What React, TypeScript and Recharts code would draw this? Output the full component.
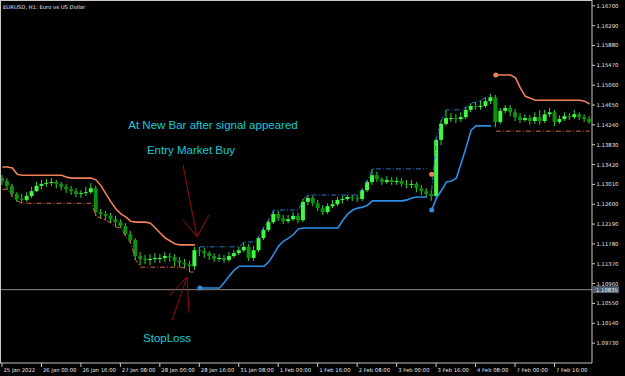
import React from "react";
import {
  ComposedChart,
  Bar,
  Line,
  XAxis,
  YAxis,
  ReferenceLine,
  ReferenceDot,
} from "recharts";

// EURUSD, 2-hour steps
const tickLabels = [
  "25 Jan 2022", "26 Jan 00:00", "26 Jan 16:00", "27 Jan 08:00", "28 Jan 00:00",
  "28 Jan 16:00", "31 Jan 08:00", "1 Feb 00:00", "1 Feb 16:00", "2 Feb 08:00",
  "3 Feb 00:00", "3 Feb 16:00", "4 Feb 08:00", "7 Feb 00:00", "7 Feb 16:00",
];
const barsPerLabel = 8;

const priceTicks = [
  1.0973, 1.1014, 1.1055, 1.1096, 1.1137, 1.1178, 1.1219, 1.126, 1.1301,
  1.1342, 1.1383, 1.1424, 1.1465, 1.1506, 1.1547, 1.1588, 1.1629, 1.167,
];

const firstOpen = 1.1314;
const closes = [
  1.1308, 1.1298, 1.1281, 1.1271, 1.1269, 1.1277, 1.1287, 1.1298, 1.1302, 1.1304,
  1.1306, 1.1302, 1.1296, 1.1291, 1.1287, 1.1281, 1.1283, 1.1285, 1.1293, 1.1244,
  1.1240, 1.1236, 1.1229, 1.1223, 1.1215, 1.1198, 1.1186, 1.1153, 1.1147, 1.1145,
  1.1147, 1.1149, 1.1149, 1.1153, 1.1151, 1.1143, 1.1139, 1.1136, 1.1132, 1.1165,
  1.1163, 1.1159, 1.1153, 1.1147, 1.1149, 1.1145, 1.1153, 1.1159, 1.1165, 1.1172,
  1.1149, 1.1165, 1.1190, 1.1207, 1.1223, 1.1240, 1.1231, 1.1225, 1.1229, 1.1236,
  1.1227, 1.1265, 1.1273, 1.1262, 1.1252, 1.1244, 1.1256, 1.1260, 1.1269, 1.1271,
  1.1275, 1.1273, 1.1271, 1.1289, 1.1306, 1.1320, 1.1312, 1.1306, 1.1310, 1.1306,
  1.1308, 1.1302, 1.1300, 1.1302, 1.1293, 1.1287, 1.1281, 1.1277, 1.1393, 1.1426,
  1.1438, 1.1438, 1.1436, 1.1440, 1.1455, 1.1463, 1.1461, 1.1463, 1.1473, 1.1481,
  1.1430, 1.1453, 1.1459, 1.1450, 1.1440, 1.1434, 1.1438, 1.1432, 1.1440, 1.1432,
  1.1446, 1.1450, 1.1430, 1.1436, 1.1442, 1.1440, 1.1446, 1.1440, 1.1436, 1.1430,
];
const highs = [
  1.1320, 1.1314, 1.1302, 1.1285, 1.1281, 1.1285, 1.1296, 1.1306, 1.1310, 1.1312,
  1.1314, 1.1310, 1.1306, 1.1302, 1.1298, 1.1293, 1.1289, 1.1296, 1.1304, 1.1298,
  1.1250, 1.1246, 1.1242, 1.1236, 1.1229, 1.1221, 1.1205, 1.1190, 1.1161, 1.1155,
  1.1157, 1.1159, 1.1157, 1.1161, 1.1159, 1.1157, 1.1151, 1.1147, 1.1143, 1.1172,
  1.1172, 1.1170, 1.1163, 1.1159, 1.1157, 1.1155, 1.1161, 1.1165, 1.1172, 1.1182,
  1.1178, 1.1174, 1.1194, 1.1213, 1.1229, 1.1248, 1.1246, 1.1238, 1.1238, 1.1244,
  1.1242, 1.1271, 1.1279, 1.1277, 1.1269, 1.1258, 1.1262, 1.1269, 1.1275, 1.1277,
  1.1279, 1.1279, 1.1279, 1.1293, 1.1310, 1.1333, 1.1327, 1.1316, 1.1318, 1.1316,
  1.1316, 1.1314, 1.1310, 1.1310, 1.1306, 1.1300, 1.1293, 1.1289, 1.1397, 1.1434,
  1.1455, 1.1448, 1.1446, 1.1450, 1.1461, 1.1469, 1.1471, 1.1475, 1.1481, 1.1488,
  1.1486, 1.1459, 1.1465, 1.1465, 1.1457, 1.1448, 1.1446, 1.1444, 1.1450, 1.1455,
  1.1455, 1.1459, 1.1455, 1.1444, 1.1450, 1.1448, 1.1455, 1.1450, 1.1446, 1.1442,
];
const lows = [
  1.1300, 1.1289, 1.1275, 1.1265, 1.1262, 1.1265, 1.1273, 1.1285, 1.1291, 1.1296,
  1.1298, 1.1293, 1.1289, 1.1283, 1.1279, 1.1275, 1.1273, 1.1277, 1.1281, 1.1236,
  1.1231, 1.1227, 1.1221, 1.1213, 1.1211, 1.1194, 1.1180, 1.1145, 1.1134, 1.1136,
  1.1134, 1.1139, 1.1139, 1.1141, 1.1141, 1.1132, 1.1130, 1.1128, 1.1120, 1.1124,
  1.1153, 1.1149, 1.1145, 1.1141, 1.1141, 1.1139, 1.1141, 1.1149, 1.1155, 1.1161,
  1.1143, 1.1143, 1.1161, 1.1186, 1.1203, 1.1219, 1.1225, 1.1219, 1.1221, 1.1225,
  1.1221, 1.1223, 1.1258, 1.1256, 1.1246, 1.1238, 1.1240, 1.1252, 1.1256, 1.1262,
  1.1267, 1.1267, 1.1265, 1.1267, 1.1285, 1.1300, 1.1306, 1.1300, 1.1302, 1.1300,
  1.1300, 1.1296, 1.1293, 1.1293, 1.1285, 1.1279, 1.1273, 1.1267, 1.1273, 1.1382,
  1.1422, 1.1430, 1.1428, 1.1430, 1.1436, 1.1450, 1.1455, 1.1455, 1.1459, 1.1467,
  1.1419, 1.1426, 1.1448, 1.1442, 1.1432, 1.1428, 1.1430, 1.1424, 1.1426, 1.1424,
  1.1428, 1.1440, 1.1422, 1.1426, 1.1432, 1.1434, 1.1436, 1.1434, 1.1430, 1.1426,
];

// trailing stop of the sell trend (orange), two stretches
const sellStop1 = [
  1.1337, 1.1337, 1.1335, 1.1322, 1.1320, 1.1320, 1.1320, 1.1320, 1.1320, 1.1320,
  1.1320, 1.1320, 1.1320, 1.1316, 1.1314, 1.1314, 1.1314, 1.1314, 1.1314, 1.1310,
  1.1298, 1.1281, 1.1265, 1.1250, 1.1240, 1.1234, 1.1225, 1.1223, 1.1223, 1.1223,
  1.1221, 1.1211, 1.1200, 1.1190, 1.1184, 1.1178, 1.1176, 1.1176, 1.1176, 1.1176,
];
const sellStop2 = [
  1.1527, 1.1527, 1.1527, 1.1527, 1.1521, 1.1500, 1.1483, 1.1479, 1.1475, 1.1475,
  1.1475, 1.1475, 1.1475, 1.1475, 1.1475, 1.1475, 1.1475, 1.1475, 1.1473, 1.1467,
];
// trailing stop of the buy trend (blue)
const buyStop1 = [
  1.1087, 1.1087, 1.1087, 1.1087, 1.1087, 1.1099, 1.1112, 1.1124, 1.1132, 1.1132,
  1.1132, 1.1132, 1.1132, 1.1132, 1.1141, 1.1157, 1.1174, 1.1184, 1.1190, 1.1198,
  1.1209, 1.1211, 1.1211, 1.1211, 1.1211, 1.1211, 1.1211, 1.1211, 1.1211, 1.1227,
  1.1240, 1.1248, 1.1252, 1.1254, 1.1258, 1.1267, 1.1267, 1.1267, 1.1267, 1.1267,
  1.1267, 1.1267, 1.1269, 1.1273, 1.1275, 1.1275, 1.1275,
];
const buyStop2 = [
  1.1248, 1.1273, 1.1289, 1.1306, 1.1308, 1.1314, 1.1345, 1.1378, 1.1413, 1.1422,
  1.1422, 1.1422, 1.1422,
];
// extreme levels of each trend (dash-dot)
const sellLevel1 = [
  1.1291, 1.1291, 1.1277, 1.1267, 1.1262, 1.1262, 1.1262, 1.1262, 1.1262, 1.1262,
  1.1262, 1.1262, 1.1262, 1.1262, 1.1262, 1.1262, 1.1262, 1.1262, 1.1262, 1.1236,
  1.1231, 1.1227, 1.1221, 1.1213, 1.1211, 1.1194, 1.1180, 1.1145, 1.1130, 1.1130,
  1.1130, 1.1130, 1.1130, 1.1130, 1.1130, 1.1130, 1.1130, 1.1128, 1.1120, 1.1120,
];
const sellLevel2 = [
  1.1411, 1.1411, 1.1411, 1.1411, 1.1411, 1.1411, 1.1411, 1.1411, 1.1411, 1.1411,
  1.1411, 1.1411, 1.1411, 1.1411, 1.1411, 1.1411, 1.1411, 1.1411, 1.1411, 1.1411,
];
const buyLevel1 = [
  1.1172, 1.1172, 1.1172, 1.1172, 1.1172, 1.1172, 1.1172, 1.1172, 1.1172, 1.1182,
  1.1182, 1.1182, 1.1194, 1.1213, 1.1229, 1.1248, 1.1248, 1.1248, 1.1248, 1.1248,
  1.1248, 1.1271, 1.1279, 1.1279, 1.1279, 1.1279, 1.1279, 1.1279, 1.1279, 1.1279,
  1.1279, 1.1279, 1.1279, 1.1293, 1.1310, 1.1333, 1.1333, 1.1333, 1.1333, 1.1333,
  1.1333, 1.1333, 1.1333, 1.1333, 1.1333, 1.1333, 1.1333,
];
const buyLevel2 = [
  1.1289, 1.1397, 1.1434, 1.1455, 1.1455, 1.1455, 1.1455, 1.1461, 1.1469, 1.1471,
  1.1475, 1.1481, 1.1488,
];

const buySignalBars = [40, 87];
const buySignalPrices = [1.1087, 1.1248];
const sellSignalBars = [87, 100];
const sellSignalPrices = [1.1322, 1.1527];

const stopLossPrice = 1.10835;

const place = (arr: number[], start: number, i: number) =>
  i >= start && i < start + arr.length ? arr[i - start] : null;

const data = closes.map((close, i) => ({
  i,
  open: i === 0 ? firstOpen : closes[i - 1],
  close,
  high: highs[i],
  low: lows[i],
  sellStop: place(sellStop1, 0, i) ?? place(sellStop2, 100, i),
  buyStopA: place(buyStop1, 40, i),
  buyStopB: place(buyStop2, 87, i),
  sellLevel: place(sellLevel1, 0, i) ?? place(sellLevel2, 100, i),
  buyLevelA: place(buyLevel1, 40, i),
  buyLevelB: place(buyLevel2, 87, i),
}));

const tickIdx = tickLabels.map((_, k) => k * barsPerLabel);

const AXIS = "#c8c8c8";
const TXT = "#e4e4e4";
const SMALL = "'DejaVu Sans', sans-serif";

const Candle = (props: any) => {
  const { x, y, width, height, payload } = props;
  if (x == null || !payload) return null;
  const { open, close, high, low } = payload;
  const top = height < 0 ? y + height : y;
  const h = Math.abs(height);
  const k = high > low ? h / (high - low) : 0;
  const bTop = top + (high - Math.max(open, close)) * k;
  const bBot = top + (high - Math.min(open, close)) * k;
  const bull = close >= open;
  const cx = x + width / 2;
  return (
    <g>
      <line x1={cx} x2={cx} y1={top} y2={top + h} stroke="#2fd82f" strokeWidth={1} />
      <rect
        x={x}
        y={bTop}
        width={width}
        height={Math.max(1, bBot - bTop)}
        fill={bull ? "#40f840" : "#0e900e"}
      />
    </g>
  );
};

const TimeTick = (props: any) => {
  const { x, y, payload } = props;
  const label = tickLabels[payload.value / barsPerLabel];
  return (
    <g>
      <line x1={x - 0.5} x2={x - 0.5} y1={y} y2={y + 4} stroke={AXIS} />
      <text x={x + 1} y={y + 8.5} fontSize={5.3} fill={TXT} fontFamily={SMALL}>
        {label}
      </text>
    </g>
  );
};

const PriceTick = (props: any) => {
  const { x, y, payload } = props;
  return (
    <g>
      <line x1={x} x2={x + 3} y1={y} y2={y} stroke={AXIS} />
      <text x={x + 4.5} y={y + 2} fontSize={5.3} fill={TXT} fontFamily={SMALL}>
        {Number(payload.value).toFixed(5)}
      </text>
    </g>
  );
};

const StopLabel = (props: any) => {
  const vb = props.viewBox || {};
  const x = vb.x + vb.width;
  const y = vb.y;
  return (
    <g>
      <rect x={x + 1} y={y - 3.5} width={26} height={7} fill="#4d5e72" />
      <text x={x + 4} y={y + 2} fontSize={5.3} fill="#f0f0f0" fontFamily={SMALL}>
        {stopLossPrice.toFixed(5)}
      </text>
    </g>
  );
};

export default function App() {
  return (
    <div style={{ position: "relative", width: 625, height: 376, background: "#000" }}>
      <style>{"body{margin:0;background:#000}"}</style>
      <ComposedChart
        width={625}
        height={376}
        data={data}
        margin={{ top: 0, right: 0, bottom: 0, left: 0 }}
        barCategoryGap={0}
      >
        <XAxis
          dataKey="i"
          type="category"
          ticks={tickIdx}
          interval={0}
          height={13}
          tickSize={0}
          tickMargin={0}
          tickLine={false}
          axisLine={{ stroke: AXIS }}
          tick={<TimeTick />}
        />
        <YAxis
          orientation="right"
          width={33}
          domain={[1.0932, 1.1682]}
          allowDataOverflow
          ticks={priceTicks}
          interval={0}
          tickSize={0}
          tickMargin={0}
          tickLine={false}
          axisLine={{ stroke: AXIS }}
          tick={<PriceTick />}
        />
        <ReferenceLine y={stopLossPrice} stroke="#8a8a8a" strokeWidth={1} label={<StopLabel />} />
        <Line type="linear" dataKey="sellLevel" stroke="#d8663e" strokeWidth={1} strokeDasharray="5 2 1 2" dot={false} activeDot={false} connectNulls={false} isAnimationActive={false} />
        <Line type="linear" dataKey="buyLevelA" stroke="#2a78d0" strokeWidth={1} strokeDasharray="5 2 1 2" dot={false} activeDot={false} connectNulls={false} isAnimationActive={false} />
        <Line type="linear" dataKey="buyLevelB" stroke="#2a78d0" strokeWidth={1} strokeDasharray="5 2 1 2" dot={false} activeDot={false} connectNulls={false} isAnimationActive={false} />
        <Bar dataKey={(d: any) => [d.low, d.high]} barSize={4} shape={<Candle />} isAnimationActive={false} />
        <Line type="linear" dataKey="sellStop" stroke="#f0805a" strokeWidth={1.6} dot={false} activeDot={false} connectNulls={false} isAnimationActive={false} />
        <Line type="linear" dataKey="buyStopA" stroke="#2d8ee6" strokeWidth={1.6} dot={false} activeDot={false} connectNulls={false} isAnimationActive={false} />
        <Line type="linear" dataKey="buyStopB" stroke="#2d8ee6" strokeWidth={1.6} dot={false} activeDot={false} connectNulls={false} isAnimationActive={false} />
        {buySignalBars.map((b, k) => (
          <ReferenceDot key={"b" + k} x={b} y={buySignalPrices[k]} r={2.5} fill="#2d8ee6" stroke="none" />
        ))}
        {sellSignalBars.map((b, k) => (
          <ReferenceDot key={"s" + k} x={b} y={sellSignalPrices[k]} r={2.5} fill="#f0805a" stroke="none" />
        ))}
      </ComposedChart>
      <svg
        width={625}
        height={376}
        style={{ position: "absolute", left: 0, top: 0, pointerEvents: "none" }}
      >
        <line x1={0.5} y1={0} x2={0.5} y2={363} stroke={AXIS} />
        <line x1={0} y1={0.5} x2={592} y2={0.5} stroke={AXIS} />
        <text x={3} y={8.5} fontSize={5.3} fill={TXT} fontFamily={SMALL}>
          EURUSD, H1:  Euro vs US Dollar
        </text>
        <g stroke="#9a0c0c" strokeWidth={1}>
          <line x1={183} y1={165} x2={197} y2={237} />
          <line x1={183} y1={220} x2={197} y2={237} />
          <line x1={209} y1={215} x2={197} y2={237} />
          <line x1={187} y1={277} x2={170} y2={295} />
          <line x1={187} y1={277} x2={172} y2={320} />
          <line x1={187} y1={277} x2={189} y2={313} />
        </g>
        <g fill="#14ccd8" fontSize={11.5} fontFamily="'Liberation Sans', Arial, sans-serif" textAnchor="middle">
          <text x={213} y={129}>At New Bar after signal appeared</text>
          <text x={191} y={154}>Entry Market Buy</text>
          <text x={167} y={342}>StopLoss</text>
        </g>
      </svg>
    </div>
  );
}
